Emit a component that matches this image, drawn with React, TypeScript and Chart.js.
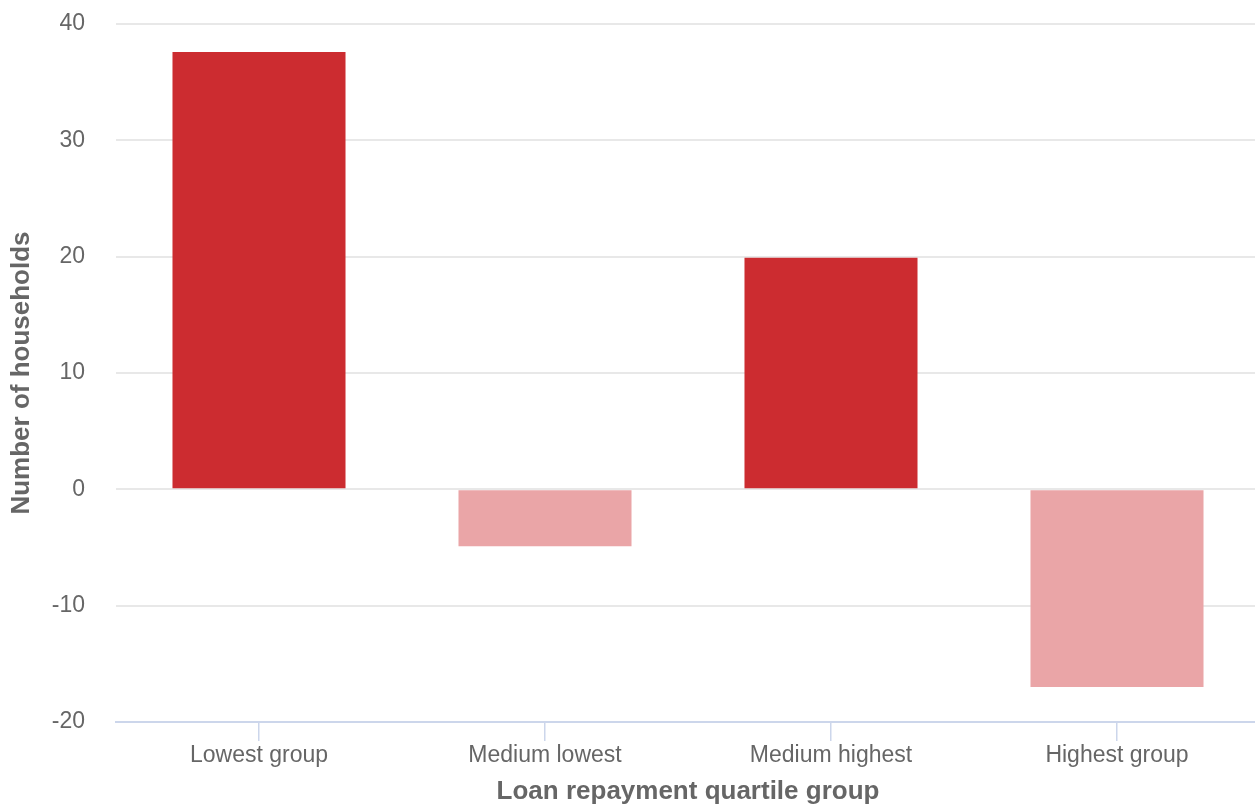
import React, { useEffect, useRef } from "react";
import { Chart, registerables } from "chart.js";

Chart.register(...registerables);

const categories = ["Lowest group", "Medium lowest", "Medium highest", "Highest group"];
const households = [37.6, -4.9, 19.9, -17.0];
const yTicks = [-20, -10, 0, 10, 20, 30, 40];

const xTitle = "Loan repayment quartile group";
const yTitle = "Number of households";

const POS_COLOR = "#cc2c30";
const NEG_COLOR = "#eaa5a7";
const FONT = "'Liberation Sans', Arial, Helvetica, sans-serif";

export default function App() {
  const canvasRef = useRef<HTMLCanvasElement | null>(null);

  useEffect(() => {
    if (!canvasRef.current) return;
    const chart = new Chart(canvasRef.current, {
      type: "bar",
      data: {
        labels: categories,
        datasets: [
          {
            label: yTitle,
            data: households,
            backgroundColor: households.map((v) => (v >= 0 ? POS_COLOR : NEG_COLOR)),
            borderWidth: 0,
            categoryPercentage: 1,
            barPercentage: 0.605,
          },
        ],
      },
      options: {
        animation: false,
        responsive: true,
        maintainAspectRatio: false,
        layout: { padding: { top: 24, left: 0, right: 0, bottom: 0 } },
        plugins: {
          legend: { display: false },
          tooltip: { enabled: false },
        },
        scales: {
          x: {
            type: "category",
            offset: true,
            afterFit: (scale: any) => {
              scale.height = 83;
            },
            grid: {
              display: true,
              offset: false,
              drawOnChartArea: false,
              drawTicks: true,
              tickLength: 19,
              tickColor: "#ccd6eb",
              tickWidth: 1.5,
              color: "#ccd6eb",
              lineWidth: 1.5,
            },
            border: { display: true, color: "#ccd6eb", width: 2 },
            ticks: {
              color: "#666666",
              font: { family: FONT, size: 23 },
              padding: 1,
              maxRotation: 0,
              autoSkip: false,
            },
            title: {
              display: true,
              text: xTitle,
              color: "#666666",
              font: { family: FONT, size: 26, weight: "bold", lineHeight: 1 },
              padding: { top: 0, bottom: 0 },
            },
          },
          y: {
            min: yTicks[0],
            max: yTicks[yTicks.length - 1],
            afterFit: (scale: any) => {
              scale.width = 116;
              scale.paddingTop = 0;
              scale.paddingBottom = 0;
            },
            afterBuildTicks: (scale: any) => {
              scale.ticks = yTicks.map((v) => ({ value: v }));
            },
            grid: {
              display: true,
              drawTicks: false,
              color: (ctx: any) => (ctx.tick && ctx.tick.value === yTicks[0] ? "rgba(0,0,0,0)" : "#e8e8e8"),
              lineWidth: 2,
            },
            border: { display: false },
            ticks: {
              color: "#666666",
              font: { family: FONT, size: 23 },
              padding: 31,
            },
            title: {
              display: true,
              text: yTitle,
              color: "#666666",
              font: { family: FONT, size: 26, weight: "bold", lineHeight: 1 },
              padding: { top: 9, bottom: 0 },
            },
          },
        },
      },
    });
    return () => chart.destroy();
  }, []);

  return (
    <div
      style={{
        position: "fixed",
        left: 0,
        top: 0,
        width: 1255,
        height: 805,
        overflow: "hidden",
        background: "#ffffff",
      }}
    >
      <div style={{ position: "relative", width: 1260, height: 805 }}>
        <canvas ref={canvasRef} />
      </div>
    </div>
  );
}
